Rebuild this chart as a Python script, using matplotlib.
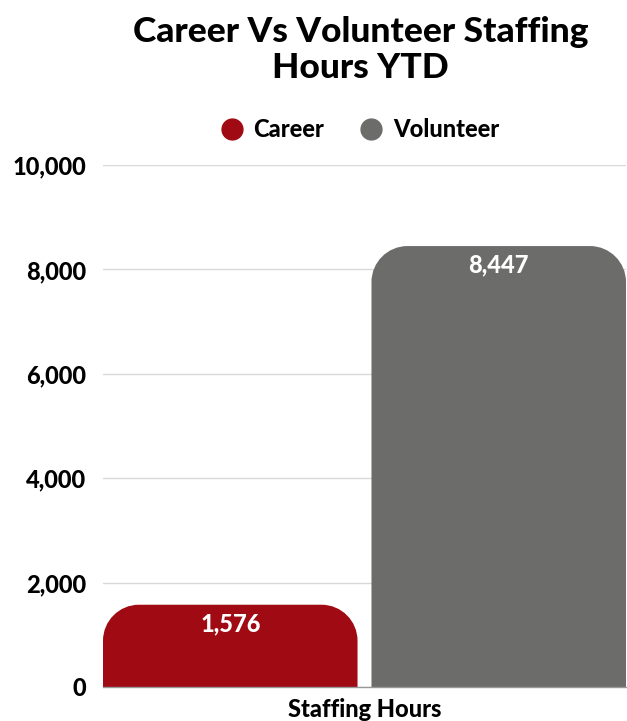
import matplotlib.pyplot as plt
from matplotlib.path import Path
from matplotlib.patches import PathPatch
from matplotlib.lines import Line2D

series = ["Career", "Volunteer"]
hours = [1576, 8447]
colors = ["#A00A12", "#6C6C6B"]
category = "Staffing Hours"
yticks = [0, 2000, 4000, 6000, 8000, 10000]

plt.rcParams['font.family'] = ['Lato', 'DejaVu Sans']

fig = plt.figure(figsize=(6.27, 7.21), dpi=100)
ax = fig.add_axes([103 / 627, 34 / 721, 523 / 627, 522 / 721])

bw = 0.948
bars = ax.bar([0, 1], hours, width=bw, color=colors, zorder=2)
ax.set_xlim(-bw / 2, 1 + bw / 2)
ax.set_ylim(0, 10000)

# swap the plain rectangles for ones with rounded top corners
fig.canvas.draw()
inv = ax.transData.inverted()
r_px = 36
rx = abs(inv.transform((r_px, 0))[0] - inv.transform((0, 0))[0])
ry = abs(inv.transform((0, r_px))[1] - inv.transform((0, 0))[1])
k = 0.5523
for b in bars:
    x0, w, h = b.get_x(), b.get_width(), b.get_height()
    x1 = x0 + w
    verts = [(x0, 0), (x0, h - ry),
             (x0, h - ry + k * ry), (x0 + rx - k * rx, h), (x0 + rx, h),
             (x1 - rx, h),
             (x1 - rx + k * rx, h), (x1, h - ry + k * ry), (x1, h - ry),
             (x1, 0), (x0, 0)]
    codes = [Path.MOVETO, Path.LINETO,
             Path.CURVE4, Path.CURVE4, Path.CURVE4,
             Path.LINETO,
             Path.CURVE4, Path.CURVE4, Path.CURVE4,
             Path.LINETO, Path.CLOSEPOLY]
    ax.add_patch(PathPatch(Path(verts, codes), facecolor=b.get_facecolor(),
                           edgecolor='none', zorder=2))
    b.set_visible(False)
    ax.annotate(f"{h:,.0f}", (x0 + w / 2, h), xytext=(0, -19),
                textcoords='offset pixels',
                ha='center', va='center', color='white',
                fontsize=17, fontweight='black', zorder=3)

ax.set_yticks(yticks)
ax.set_yticklabels([f"{v:,}" for v in yticks], fontsize=17, fontweight='black')
ax.set_xticks([0.5])
ax.set_xticklabels([category], fontsize=17, fontweight='black')
ax.tick_params(length=0)
ax.tick_params(axis='y', pad=12)
ax.tick_params(axis='x', pad=8)
ax.grid(axis='y', color='#D9D9D9', linewidth=1, zorder=0)
for s in ['top', 'right', 'left']:
    ax.spines[s].set_visible(False)
ax.spines['bottom'].set_color('#999999')
ax.spines['bottom'].set_linewidth(1)

handles = [Line2D([], [], marker='o', linestyle='none', markersize=15,
                  markerfacecolor=c, markeredgecolor=c) for c in colors]
leg = ax.legend(handles, series, loc='lower center', bbox_to_anchor=(0.4885, 1.005),
                ncol=2, frameon=False, handlelength=1.2, handletextpad=0.3,
                columnspacing=1.4, prop={'size': 17, 'weight': 'black'})

fig.text((103 + 523 / 2) / 627 - 0.006, 1 - 50 / 721, "Career Vs Volunteer Staffing\nHours YTD",
         ha='center', va='center', fontsize=25.5, fontweight='black', linespacing=1.12)

fig.savefig("out.png", dpi=100)
